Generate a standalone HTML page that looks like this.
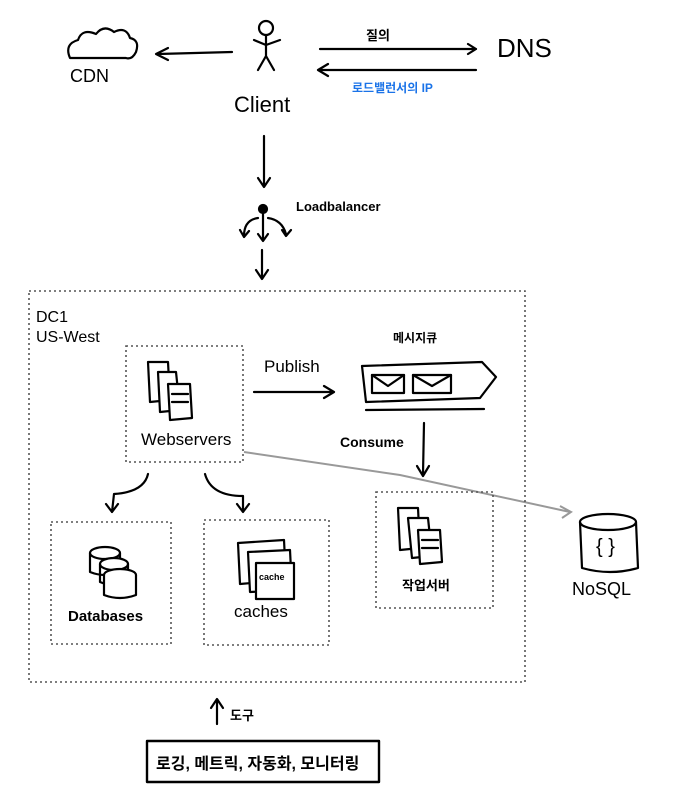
<!DOCTYPE html>
<html><head><meta charset="utf-8"><style>
html,body{margin:0;padding:0;background:#fff;}
svg{display:block;}
text{font-family:"Liberation Sans","Noto Sans CJK KR",sans-serif;fill:#000;}
</style></head><body>
<svg width="680" height="805" viewBox="0 0 680 805" xmlns="http://www.w3.org/2000/svg">
<g fill="none" stroke="#000" stroke-width="2.2" stroke-linecap="round" stroke-linejoin="round">
<!-- CDN cloud -->
<path d="M70 58 q-6 -14 8 -18 q4 -12 18 -6 q8 -10 18 -2 q12 -6 16 6 q10 2 6 14 q-4 8 -10 6 Z"/>
<!-- arrow client->CDN -->
<path d="M232 52 L158 54 M168 48 L156 54 L168 60"/>
<!-- stick figure -->
<circle cx="266" cy="28" r="7"/>
<path d="M266 35 L266 56 M254 40 L266 45 L280 40 M266 56 L258 70 M266 56 L274 70"/>
<!-- DNS arrows -->
<path d="M320 49 L476 49 M468 44 L476 49 L468 54"/>
<path d="M476 70 L320 70 M328 64 L318 70 L328 76"/>
<!-- client down arrow -->
<path d="M264 136 L264 186 M258 178 L264 187 L270 178"/>
<!-- load balancer -->
<circle cx="263" cy="209" r="4" fill="#000"/>
<path d="M263 213 L263 240 M258 234 L263 241 L268 234"/>
<path d="M258 218 q-14 2 -14 18 M240 230 L244 237 L249 231"/>
<path d="M268 218 q14 2 18 16 M282 230 L286 236 L291 230"/>
<path d="M262 250 L262 278 M256 270 L262 279 L268 270"/>
<!-- publish arrow -->
<path d="M254 392 L332 392 M324 386 L334 392 L324 398"/>
<!-- queue -->
<path d="M362 366 L482 362 L496 377 L480 398 L366 402 Z"/>
<path d="M366 410 L484 409"/>
<rect x="372" y="375" width="32" height="18"/><path d="M372 375 L388 386 L404 375"/>
<rect x="413" y="375" width="38" height="18"/><path d="M413 375 L432 386 L451 375"/>
<!-- consume arrow -->
<path d="M424 423 L423 474 M417 466 L423 476 L429 466"/>
<!-- webserver icon -->
<path d="M148 362 L168 362 L170 400 L150 402 Z"/>
<path d="M158 372 L176 372 L180 410 L160 412 Z" fill="#fff"/>
<path d="M168 384 L190 384 L192 418 L170 420 Z" fill="#fff"/>
<path d="M172 394 L188 394 M172 402 L188 402"/>
<!-- arrows to db/cache -->
<path d="M148 474 q-4 18 -34 20 L112 512 M106 504 L112 512 L118 504"/>
<path d="M205 474 q6 22 38 22 L243 510 M237 504 L243 512 L249 504"/>
<!-- databases -->
<ellipse cx="105" cy="553" rx="15" ry="6"/><path d="M90 553 L90 572 q15 6 30 0 L120 553"/>
<ellipse cx="114" cy="564" rx="14" ry="6" fill="#fff"/><path d="M100 564 L100 582 q14 6 28 0 L128 564"/>
<ellipse cx="120" cy="575" rx="16" ry="6" fill="#fff"/><path d="M104 575 L104 595 q16 6 32 0 L136 575" fill="#fff"/>
<!-- caches -->
<path d="M238 543 L284 540 L286 580 L240 584 Z"/>
<path d="M248 552 L290 550 L292 590 L250 592 Z" fill="#fff"/>
<rect x="256" y="563" width="38" height="36" fill="#fff"/>
<!-- worker icon -->
<path d="M398 508 L418 508 L420 548 L400 550 Z"/>
<path d="M408 518 L428 518 L432 556 L412 558 Z" fill="#fff"/>
<path d="M418 530 L440 530 L442 562 L420 564 Z" fill="#fff"/>
<path d="M422 540 L438 540 M422 548 L438 548"/>
<!-- NoSQL -->
<ellipse cx="608" cy="522" rx="28" ry="8"/>
<path d="M580 522 L582 568 q28 8 56 0 L636 522"/>
<!-- bottom box -->
<rect x="147" y="741" width="232" height="41" stroke-width="2.4"/>
<path d="M217 724 L217 700 M211 708 L217 699 L223 708"/>
</g>
<!-- gray line to NoSQL -->
<path d="M244 452 L400 475 L570 512 M560 506 L571 512 L562 518" fill="none" stroke="#999" stroke-width="2"/>
<!-- dotted boxes -->
<g fill="none" stroke="#555" stroke-width="1.6" stroke-dasharray="2 3">
<rect x="29" y="291" width="496" height="391"/>
<rect x="126" y="346" width="117" height="116"/>
<rect x="51" y="522" width="120" height="122"/>
<rect x="204" y="520" width="125" height="125"/>
<rect x="376" y="492" width="117" height="116"/>
</g>
<text x="70" y="82" font-size="18">CDN</text>
<text x="234" y="112" font-size="22">Client</text>
<text x="497" y="57" font-size="26">DNS</text>
<text x="366" y="40" font-size="13" font-weight="bold">질의</text>
<text x="352" y="92" font-size="12" font-weight="bold" style="fill:#1a73e8">로드밸런서의 IP</text>
<text x="296" y="211" font-size="13" font-weight="bold">Loadbalancer</text>
<text x="36" y="322" font-size="16">DC1</text>
<text x="36" y="342" font-size="16">US-West</text>
<text x="264" y="372" font-size="17">Publish</text>
<text x="393" y="342" font-size="12" font-weight="bold">메시지큐</text>
<text x="340" y="447" font-size="14" font-weight="bold">Consume</text>
<text x="141" y="445" font-size="17">Webservers</text>
<text x="68" y="621" font-size="15" font-weight="bold">Databases</text>
<text x="234" y="617" font-size="17">caches</text>
<text x="259" y="580" font-size="9" font-weight="bold">cache</text>
<text x="402" y="590" font-size="13" font-weight="bold">작업서버</text>
<text x="572" y="595" font-size="18">NoSQL</text>
<text x="596" y="553" font-size="20">{ }</text>
<text x="230" y="720" font-size="13" font-weight="bold">도구</text>
<text x="156" y="769" font-size="16" font-weight="bold">로깅, 메트릭, 자동화, 모니터링</text>
</svg>
</body></html>
